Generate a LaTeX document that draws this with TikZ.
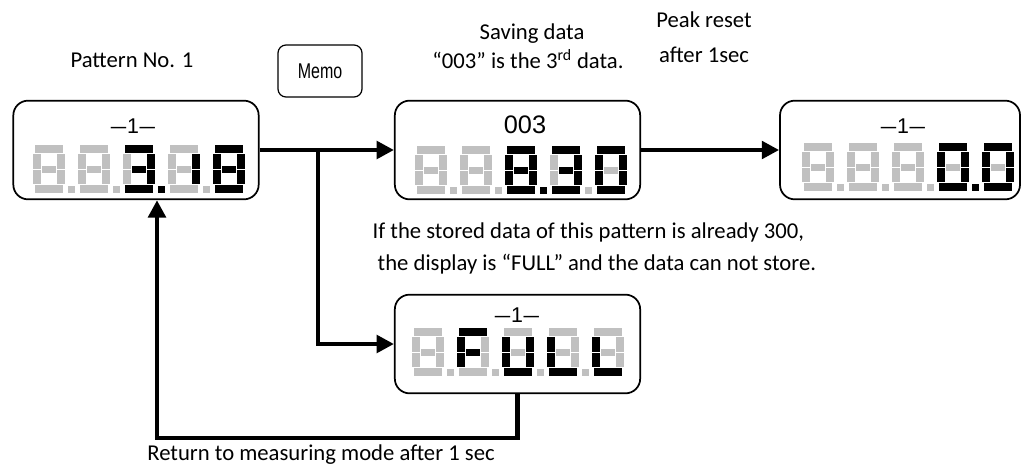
\documentclass[tikz,border=0pt]{standalone}
\usepackage{fontspec}
\usepackage{graphicx}
\setmainfont{Carlito}
\newfontfamily\lcdfont{Liberation Sans}
\usetikzlibrary{arrows.meta,positioning}

\definecolor{seggray}{RGB}{192,192,192}

% one seven segment digit: left, top, lit segments (a-g)
\makeatletter
\newcommand{\segtest}[2]{\in@{#1}{#2}\ifin@\def\segcol{black}\else\def\segcol{seggray}\fi}
\makeatother
\newcommand{\lcddigit}[3]{%
  \foreach \s/\xa/\ya/\xb/\yb in {a/2/0/30/8, b/24/9/32/23.5, c/24/24.5/32/39,
      d/2/40/30/48, e/0/24.5/8/39, f/0/9/8/23.5, g/9/20.5/23/27.5}{
    \expandafter\segtest\expandafter{\s}{#3}
    \fill[\segcol] (#1+\xa,#2+\ya) rectangle (#1+\xb,#2+\yb);
  }}
% decimal point after a digit (p = lit)
\newcommand{\lcdpoint}[3]{%
  \segtest{p}{#3}
  \fill[\segcol] (#1+35,#2+41) rectangle (#1+42,#2+48);}
% five digits in a row, points after the first four
\newcommand{\lcdrow}[7]{%
  \lcddigit{#1}{#2}{#3}      \lcdpoint{#1}{#2}{#3}
  \lcddigit{#1+45}{#2}{#4}   \lcdpoint{#1+45}{#2}{#4}
  \lcddigit{#1+90}{#2}{#5}   \lcdpoint{#1+90}{#2}{#5}
  \lcddigit{#1+135}{#2}{#6}  \lcdpoint{#1+135}{#2}{#6}
  \lcddigit{#1+180}{#2}{#7}}
% pattern number between long dashes
\newcommand{\patnum}[1]{\scalebox{1.3}[1]{–}\kern0.5pt#1\kern0.5pt\scalebox{1.3}[1]{–}}

\begin{document}
\begin{tikzpicture}[x=0.75pt,y=-0.75pt,
    lcdbox/.style={draw, line width=1.3pt, rounded corners=11pt, minimum width=184pt, minimum height=74pt, inner sep=0pt},
    flow/.style={line width=3.4pt, -{Triangle[length=13pt,width=13pt]}},
    note/.style={anchor=base, font=\fontsize{17}{20}\selectfont},
    lcdtext/.style={anchor=base, font=\lcdfont\fontsize{16}{16}\selectfont}]

    \useasboundingbox (0,0) rectangle (1023,467);

    % displays
    \node[lcdbox] (pat) at (136,150) {};
    \node[lcdbox] (save) at (517.5,150) {};
    \node[lcdbox, minimum width=180pt] (peak) at (900,150) {};
    \node[lcdbox] (full) at (517.5,344) {};

    \node[lcdtext] (patno) at (133,133) {\patnum{1}};
    \node[lcdtext, font=\lcdfont\fontsize{19}{19}\selectfont] (saveno) at (525,133) {003};
    \node[lcdtext] (peakno) at (903,133) {\patnum{1}};
    \node[lcdtext] (fullno) at (517,322) {\patnum{1}};

    \lcdrow{33}{145}{}{}{abcdgp}{bc}{abcdefg}
    \lcdrow{415}{146}{}{}{abcdefgp}{abcdg}{abcdef}
    \lcdrow{802}{143}{}{}{}{abcdefp}{abcdef}
    \lcdrow{412}{328}{}{aefg}{bcdef}{def}{def}

    % key
    \node[draw, line width=0.9pt, rounded corners=6pt, minimum width=63pt, minimum height=39pt,
          font=\lcdfont\fontsize{16}{16}\selectfont] (memo) at (320,71) {\scalebox{0.75}[1]{Memo}};

    % arrows
    \coordinate (split) at (318,150);
    \coordinate (back) at (157,438);
    \draw[flow] (pat.east) -- (save.west);
    \draw[flow] (save.east) -- (peak.west);
    \draw[flow] (split) |- (full.west);
    \draw[flow] (full.south) |- (back) -- (back |- pat.south);

    % labels
    \node[note] (patlbl) at (132,68) {Pattern No. 1};
    \node[note] (savelbl) at (532,40) {Saving data};
    \node[note] (savelbl2) at (528,69) {“003” is the 3\textsuperscript{rd} data.};
    \node[note] (peaklbl) at (704,28) {Peak reset};
    \node[note] (peaklbl2) at (704,63) {after 1sec};
    \node[note, anchor=base west] (fulllbl) at (368,238) {If the stored data of this pattern is already 300,};
    \node[note, anchor=base west] (fulllbl2) at (373,270) {the display is “FULL” and the data can not store.};
    \node[note] (retlbl) at (321,460) {Return to measuring mode after 1 sec};
\end{tikzpicture}
\end{document}
